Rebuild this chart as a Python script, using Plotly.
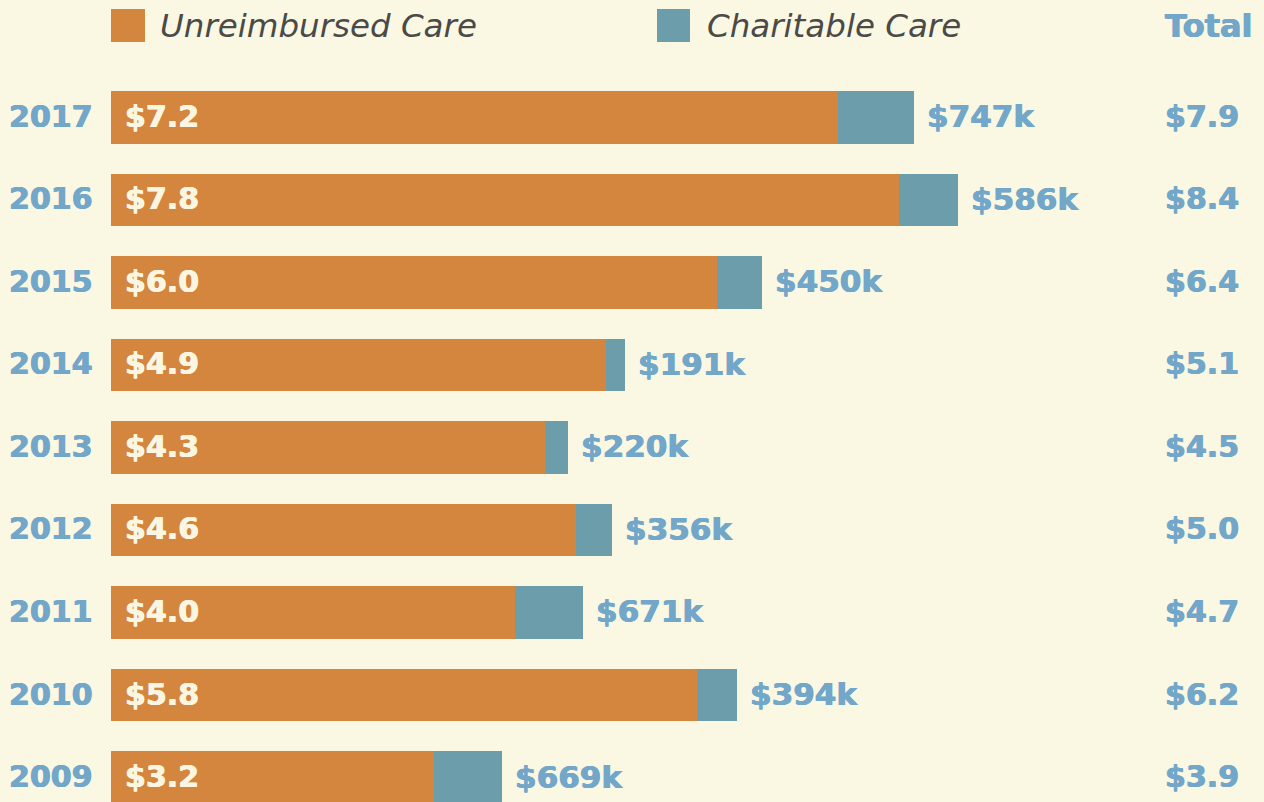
import plotly.graph_objects as go

years = ["2017", "2016", "2015", "2014", "2013", "2012", "2011", "2010", "2009"]
unreimbursed = [7.2, 7.8, 6.0, 4.9, 4.3, 4.6, 4.0, 5.8, 3.2]          # $ millions
charitable_k = [747, 586, 450, 191, 220, 356, 671, 394, 669]          # $ thousands
totals = [7.9, 8.4, 6.4, 5.1, 4.5, 5.0, 4.7, 6.2, 3.9]                 # $ millions

charitable = [v / 1000 for v in charitable_k]

W, H = 1264, 802
BG = "#FAF7E3"
ORANGE = "#D4863F"
TEAL = "#6B9DAB"
BLUE = "#72A7C9"
CREAM = "#FBF6E2"
FONT = "DejaVu Sans"

order = years[::-1]  # bottom -> top
pos = {yr: order.index(yr) for yr in years}


def bold_font(color, size=30):
    return dict(family=FONT, size=size, color=color, weight="bold",
                shadow=f"0.6px 0 0 {color}, -0.4px 0 0 {color}")


fig = go.Figure()
fig.add_trace(go.Bar(y=years, x=unreimbursed, orientation="h", marker=dict(color=ORANGE, line=dict(width=0)),
                     width=0.64, name="Unreimbursed Care", hoverinfo="skip"))
fig.add_trace(go.Bar(y=years, x=charitable, orientation="h", marker=dict(color=TEAL, line=dict(width=0)),
                     width=0.64, name="Charitable Care", hoverinfo="skip"))

ann = []
for yr, u, c, ck, t in zip(years, unreimbursed, charitable, charitable_k, totals):
    yy = pos[yr]
    ann.append(dict(x=7 / W, xref="paper", y=yy, yref="y", text=yr, xanchor="left", yanchor="middle",
                    yshift=1, showarrow=False, font=bold_font(BLUE)))
    ann.append(dict(x=0, xref="x", y=yy, yref="y", text=f"${u:.1f}", xanchor="left", yanchor="middle",
                    xshift=12, yshift=1, showarrow=False, font=bold_font(CREAM)))
    ann.append(dict(x=u + c, xref="x", y=yy, yref="y", text=f"${ck}k", xanchor="left", yanchor="middle",
                    xshift=11, yshift=1, showarrow=False, font=bold_font(BLUE, 31)))
    ann.append(dict(x=1163 / W, xref="paper", y=yy, yref="y", text=f"${t:.1f}", xanchor="left", yanchor="middle",
                    yshift=1, showarrow=False, font=bold_font(BLUE)))

# legend / header
legend_y = 1 - 26 / H
ann.append(dict(x=158 / W, xref="paper", y=legend_y, yref="paper", text="Unreimbursed Care", xanchor="left",
                yanchor="middle", showarrow=False,
                font=dict(family=FONT, size=32.5, color="#4A4A48", style="italic")))
ann.append(dict(x=705 / W, xref="paper", y=legend_y, yref="paper", text="Charitable Care", xanchor="left",
                yanchor="middle", showarrow=False,
                font=dict(family=FONT, size=32.5, color="#4A4A48", style="italic")))
ann.append(dict(x=1163 / W, xref="paper", y=legend_y, yref="paper", text="Total", xanchor="left",
                yanchor="middle", showarrow=False, font=bold_font(BLUE, 32)))

shapes = [
    dict(type="rect", xref="paper", yref="paper", x0=111 / W, x1=145 / W, y0=1 - 42 / H, y1=1 - 9 / H,
         fillcolor=ORANGE, line=dict(width=0)),
    dict(type="rect", xref="paper", yref="paper", x0=657 / W, x1=690 / W, y0=1 - 42 / H, y1=1 - 9 / H,
         fillcolor=TEAL, line=dict(width=0)),
]

scale = 101.0  # px per $1M
fig.update_layout(
    width=W, height=H, autosize=False,
    margin=dict(l=0, r=0, t=0, b=0, pad=0),
    paper_bgcolor=BG, plot_bgcolor=BG,
    barmode="stack", showlegend=False,
    annotations=ann, shapes=shapes,
    xaxis=dict(range=[-111 / scale, (W - 111) / scale], visible=False, fixedrange=True),
    yaxis=dict(type="category", categoryorder="array", categoryarray=order,
               range=[-0.297, 9.424], visible=False, fixedrange=True),
)

fig.write_html("out.html", config={"displayModeBar": False},
               post_script="document.body.style.margin='0';document.body.style.background='%s';" % BG)
